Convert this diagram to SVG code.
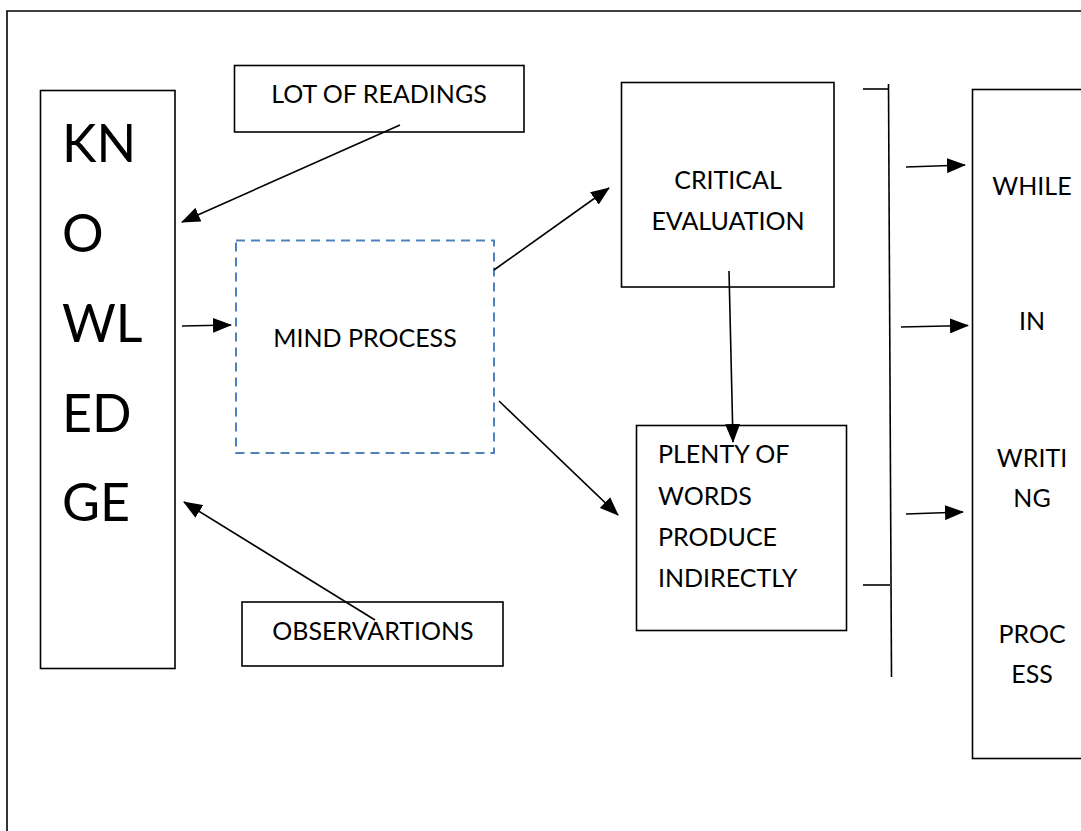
<svg xmlns="http://www.w3.org/2000/svg" width="1081" height="831" viewBox="0 0 1081 831">
<style>
.box{fill:#fff;stroke:#000;stroke-width:1.6}
.t{font-family:Lato,"Liberation Sans",sans-serif;font-size:25px;fill:#000}
.big{font-family:Lato,"Liberation Sans",sans-serif;font-size:52px;fill:#000}
.c{stroke:#000;stroke-width:1.6;fill:none}
</style>
<defs>
<marker id="ah" markerUnits="userSpaceOnUse" markerWidth="19" markerHeight="15" refX="18" refY="7.5" orient="auto">
<path d="M0,0 L19,7.5 L0,15 Z" fill="#000"/>
</marker>
</defs>
<rect width="1081" height="831" fill="#fff"/>
<g id="frame"><path d="M7,831 V11 H1081" class="c" stroke-width="2"/></g>
<g id="knowledge">
<rect x="40.5" y="90.5" width="134.5" height="578" class="box"/>
<text class="big" x="62" y="162">KN</text>
<text class="big" x="62" y="252">O</text>
<text class="big" x="62" y="342">WL</text>
<text class="big" x="62" y="432">ED</text>
<text class="big" x="62" y="521">GE</text>
</g>
<g id="readings">
<rect x="234.5" y="65.5" width="289.5" height="66.5" class="box"/>
<text class="t" x="379" y="103" text-anchor="middle">LOT OF READINGS</text>
</g>
<g id="mind">
<rect x="236" y="240.5" width="258" height="212.5" fill="#fff" stroke="#4f81bd" stroke-width="2" stroke-dasharray="9 6"/>
<text class="t" x="365" y="347" text-anchor="middle">MIND PROCESS</text>
</g>
<g id="observations">
<rect x="242" y="602" width="261" height="64" class="box"/>
<text class="t" x="373" y="640" text-anchor="middle">OBSERVARTIONS</text>
</g>
<g id="critical">
<rect x="621.5" y="82.5" width="212.5" height="204.5" class="box"/>
<text class="t" x="728" y="189" text-anchor="middle">CRITICAL</text>
<text class="t" x="728" y="230" text-anchor="middle">EVALUATION</text>
</g>
<g id="plenty">
<rect x="636.5" y="425.5" width="210" height="205" class="box"/>
<text class="t" x="658" y="463">PLENTY OF</text>
<text class="t" x="658" y="505">WORDS</text>
<text class="t" x="658" y="546">PRODUCE</text>
<text class="t" x="658" y="587">INDIRECTLY</text>
</g>
<g id="writing">
<rect x="972.5" y="89.5" width="120" height="669" class="box"/>
<text class="t" x="1032" y="195" text-anchor="middle">WHILE</text>
<text class="t" x="1032" y="330" text-anchor="middle">IN</text>
<text class="t" x="1032" y="467" text-anchor="middle">WRITI</text>
<text class="t" x="1032" y="507" text-anchor="middle">NG</text>
<text class="t" x="1032" y="643" text-anchor="middle">PROC</text>
<text class="t" x="1032" y="683" text-anchor="middle">ESS</text>
</g>
<g id="bracket">
<path d="M888.5,84 L891.5,677" class="c"/>
<path d="M863,89 H889" class="c"/>
<path d="M863,585 H890" class="c"/>
</g>
<g id="connectors">
<path d="M400,125 L182,222" class="c" marker-end="url(#ah)"/>
<path d="M182,326 L231,325" class="c" marker-end="url(#ah)"/>
<path d="M375,620 L184,502" class="c" marker-end="url(#ah)"/>
<path d="M494,270 L609,188" class="c" marker-end="url(#ah)"/>
<path d="M499,401 L618,515" class="c" marker-end="url(#ah)"/>
<path d="M729,271 L733,442" class="c" marker-end="url(#ah)"/>
<path d="M906,167 L965,165" class="c" marker-end="url(#ah)"/>
<path d="M901,327 L968,325.5" class="c" marker-end="url(#ah)"/>
<path d="M906,514 L963,512" class="c" marker-end="url(#ah)"/>
</g>
</svg>
